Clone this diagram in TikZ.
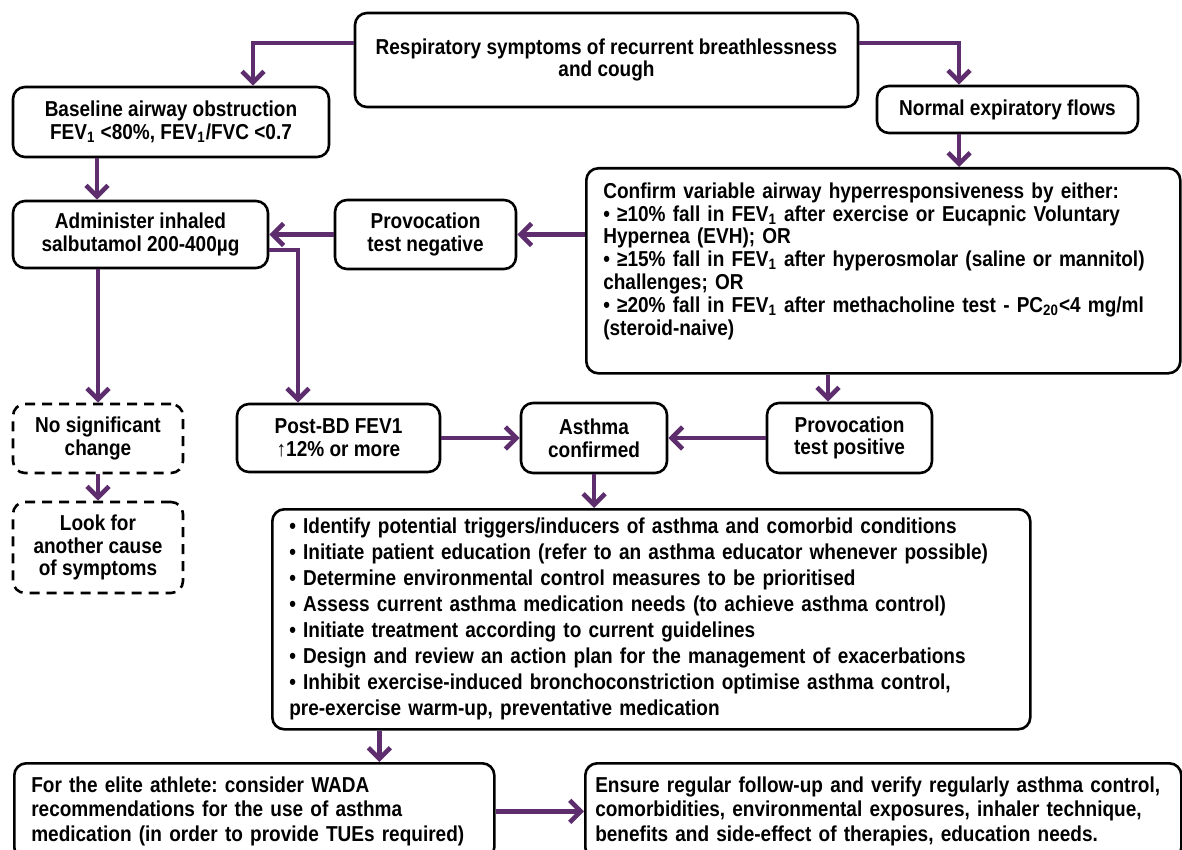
\documentclass[tikz,border=0pt]{standalone}
\usepackage{fontspec}
\setmainfont{Liberation Sans}[FakeStretch=0.88]
\frenchspacing
\usetikzlibrary{arrows.meta}
\definecolor{flowpurple}{RGB}{93,45,110}
\begin{document}
\begin{tikzpicture}[
x=0.5pt, y=-0.5pt,
every node/.style = {shape=rectangle, rounded corners=6pt, draw, line width=1.3pt, align=center, inner sep=0pt, font=\bfseries\fontsize{10.8}{11.4}\selectfont},
dashbox/.style = {dash pattern=on 5pt off 3.5pt},
flow/.style = {draw=flowpurple, line width=2.3pt, -{Straight Barb[length=5.5pt,width=11pt]}},
]
\useasboundingbox (0,0) rectangle (1182,850);
  \node[minimum width=251.5pt, minimum height=47pt] (symptoms) at (606.5,60)
    {Respiratory symptoms of recurrent breathlessness\\and cough};
  \node[minimum width=158pt, minimum height=35pt] (baseline) at (171,122)
    {Baseline airway obstruction\\FEV\textsubscript{1} <80\%, FEV\textsubscript{1}/FVC <0.7};
  \node[minimum width=130.5pt, minimum height=23.5pt] (normal) at (1007.5,109.5) {Normal expiratory flows};
  \node[minimum width=127.5pt, minimum height=33.5pt] (salbutamol) at (140.5,234.5) {Administer inhaled\\salbutamol 200-400µg};
  \node[minimum width=90.5pt, minimum height=34.5pt] (provneg) at (425.5,234.5) {Provocation\\test negative};
  \node[anchor=north west, text width=280pt, minimum height=102.5pt, align=left, inner xsep=8.5pt] (confirm) at (585,167)
    {Confirm variable airway hyperresponsiveness by either:\\
    • ≥10\% fall in FEV\textsubscript{1} after exercise or Eucapnic Voluntary\\
    Hypernea (EVH); OR\\
    • ≥15\% fall in FEV\textsubscript{1} after hyperosmolar (saline or mannitol)\\
    challenges; OR\\
    • ≥20\% fall in FEV\textsubscript{1} after methacholine test - PC\textsubscript{20}<4 mg/ml\\
    (steroid-naive)\rule[-12pt]{0pt}{0pt}};
  \node[dashbox, minimum width=85pt, minimum height=34.5pt] (nochange) at (98,438.5) {No significant\\change};
  \node[dashbox, minimum width=85pt, minimum height=45.5pt] (othercause) at (98,547.5) {Look for\\another cause\\of symptoms};
  \node[minimum width=101.5pt, minimum height=34pt] (postbd) at (338.5,438) {Post-BD FEV1\\↑12\% or more};
  \node[minimum width=73pt, minimum height=35pt] (confirmed) at (594,438) {Asthma\\confirmed};
  \node[minimum width=82.5pt, minimum height=35pt] (provpos) at (849.5,438) {Provocation\\test positive};
  \node[anchor=north west, text width=362pt, minimum height=110pt, align=left, inner xsep=8.5pt,
    font=\bfseries\fontsize{10.8}{13}\selectfont] (actions) at (271,508)
    {• Identify potential triggers/inducers of asthma and comorbid conditions\\
    • Initiate patient education (refer to an asthma educator whenever possible)\\
    • Determine environmental control measures to be prioritised\\
    • Assess current asthma medication needs (to achieve asthma control)\\
    • Initiate treatment according to current guidelines\\
    • Design and review an action plan for the management of exacerbations\\
    • Inhibit exercise-induced bronchoconstriction optimise asthma control,\\
    pre-exercise warm-up, preventative medication};
  \node[anchor=north west, text width=223pt, minimum height=48pt, align=left, inner xsep=8.5pt,
    font=\bfseries\fontsize{10.8}{12.25}\selectfont] (elite) at (13,762)
    {For the elite athlete: consider WADA\\recommendations for the use of asthma\\medication (in order to provide TUEs required)};
  \node[anchor=north west, text width=288pt, minimum height=48pt, align=left, inner xsep=5pt,
    font=\bfseries\fontsize{10.8}{12.25}\selectfont] (followup) at (584,762)
    {Ensure regular follow-up and verify regularly asthma control,\\comorbidities, environmental exposures, inhaler technique,\\benefits and side-effect of therapies, education needs.};
  \draw[flow] ([yshift=8.5pt]symptoms.west) -| ([xshift=41pt]baseline.north);
  \draw[flow] ([yshift=8.5pt]symptoms.east) -| ([xshift=-24.25pt]normal.north);
  \draw[flow] ([xshift=-37pt]baseline.south) -- ([xshift=-37pt]baseline.south |- salbutamol.north);
  \draw[flow] ([xshift=-24.25pt]normal.south) -- ([xshift=-24.25pt]normal.south |- confirm.north);
  \draw[flow] (confirm.west |- provneg.east) -- (provneg.east);
  \draw[flow] (provneg.west) -- (salbutamol.east);
  \draw[flow] ([yshift=-7.75pt]salbutamol.east) -| ([xshift=-20.25pt]postbd.north);
  \draw[flow] (salbutamol.south -| nochange.north) -- (nochange.north);
  \draw[flow] (nochange) -- (othercause);
  \draw[flow] (postbd) -- (confirmed);
  \draw[flow] (provpos) -- (confirmed);
  \draw[flow] ([xshift=-10.75pt]provpos.north |- confirm.south) -- ([xshift=-10.75pt]provpos.north);
  \draw[flow] (confirmed.south) -- (confirmed.south |- actions.north);
  \draw[flow] ([xshift=62.5pt]elite.north |- actions.south) -- ([xshift=62.5pt]elite.north);
  \draw[flow] (elite.east) -- (elite.east -| followup.west);
\end{tikzpicture}
\end{document}
